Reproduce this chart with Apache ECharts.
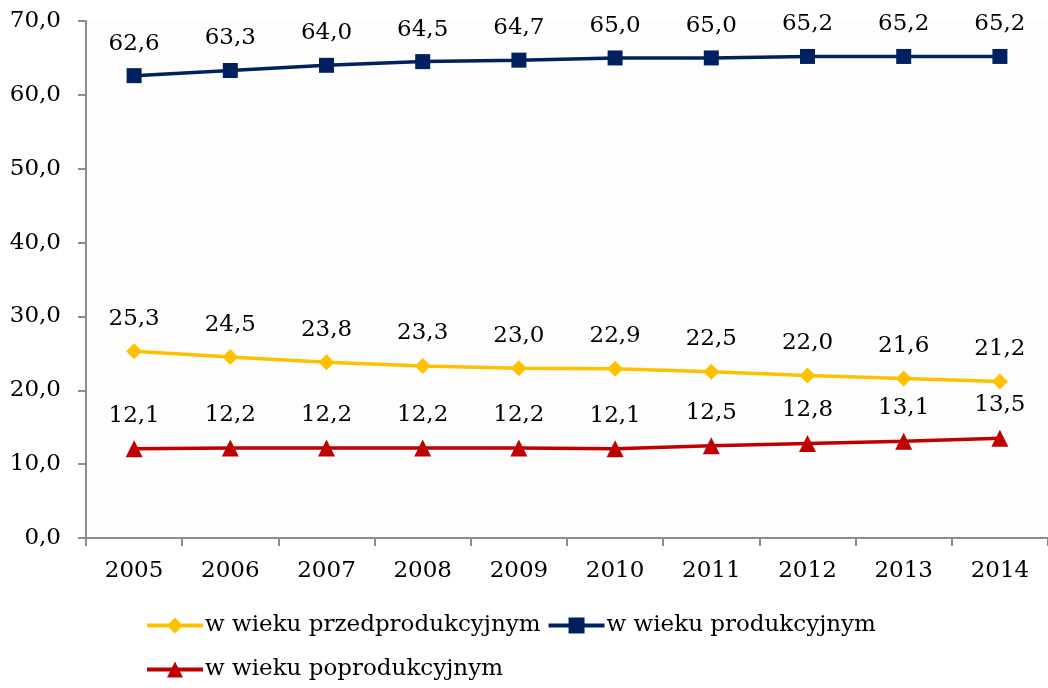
<!DOCTYPE html>
<html>
<head>
<meta charset="utf-8">
<script src="https://cdn.jsdelivr.net/npm/echarts@6/dist/echarts.min.js"></script>
<style>
  html, body { margin: 0; padding: 0; background: #fff; }
  #chart { width: 1048px; height: 688px; }
</style>
</head>
<body>
<div id="chart"></div>
<script>
  var years = ['2005', '2006', '2007', '2008', '2009', '2010', '2011', '2012', '2013', '2014'];
  var przed = [25.3, 24.5, 23.8, 23.3, 23.0, 22.9, 22.5, 22.0, 21.6, 21.2];
  var prod = [62.6, 63.3, 64.0, 64.5, 64.7, 65.0, 65.0, 65.2, 65.2, 65.2];
  var poprod = [12.1, 12.2, 12.2, 12.2, 12.2, 12.1, 12.5, 12.8, 13.1, 13.5];

  var FONT = '"DejaVu Serif", serif';
  var INK = '#000';
  function comma(v) { return v.toFixed(1).replace('.', ','); }

  function line(name, data, color, symbol, size) {
    return {
      name: name,
      type: 'line',
      data: data,
      symbol: symbol,
      symbolSize: size,
      lineStyle: { color: color, width: 3.5 },
      itemStyle: { color: color },
      label: {
        show: true,
        position: 'top',
        distance: 13,
        color: INK,
        fontFamily: FONT,
        fontSize: 23,
        formatter: function (p) { return comma(p.value); }
      },
      animation: false
    };
  }

  var legendText = { fontFamily: FONT, fontSize: 23, color: INK, padding: [0, 0, 0, -3] };

  var chart = echarts.init(document.getElementById('chart'), null, { renderer: 'canvas' });
  chart.setOption({
    textStyle: { fontFamily: FONT },
    grid: { left: 86, top: 21, bottom: 150, right: -4, containLabel: false, show: true, backgroundColor: '#fdfdfd', borderWidth: 0 },
    legend: [{
      left: 145, top: 614, padding: 0,
      itemWidth: 56, itemHeight: 20, itemGap: 6,
      lineStyle: { width: 4 },
      textStyle: legendText,
      data: ['w wieku przedprodukcyjnym', 'w wieku produkcyjnym']
    }, {
      left: 145, top: 658, padding: 0,
      itemWidth: 56, itemHeight: 20,
      lineStyle: { width: 4 },
      textStyle: legendText,
      data: ['w wieku poprodukcyjnym']
    }],
    xAxis: {
      type: 'category',
      data: years,
      boundaryGap: true,
      axisLine: { lineStyle: { color: '#8c8c8c', width: 2 } },
      axisTick: { show: true, length: 8, lineStyle: { color: '#8c8c8c', width: 2 } },
      axisLabel: { color: INK, fontFamily: FONT, fontSize: 23, margin: 22 }
    },
    yAxis: {
      type: 'value',
      min: 0, max: 70, interval: 10,
      axisLine: { show: true, lineStyle: { color: '#8c8c8c', width: 2 } },
      axisTick: { show: true, length: 8, lineStyle: { color: '#8c8c8c', width: 2 } },
      splitLine: { show: false },
      axisLabel: { color: INK, fontFamily: FONT, fontSize: 23, margin: 25, formatter: function (v) { return comma(v); } }
    },
    series: [
      line('w wieku przedprodukcyjnym', przed, '#FFC000', 'diamond', 16),
      line('w wieku produkcyjnym', prod, '#002060', 'rect', 15),
      line('w wieku poprodukcyjnym', poprod, '#C00000', 'triangle', 17)
    ]
  });
</script>
</body>
</html>
